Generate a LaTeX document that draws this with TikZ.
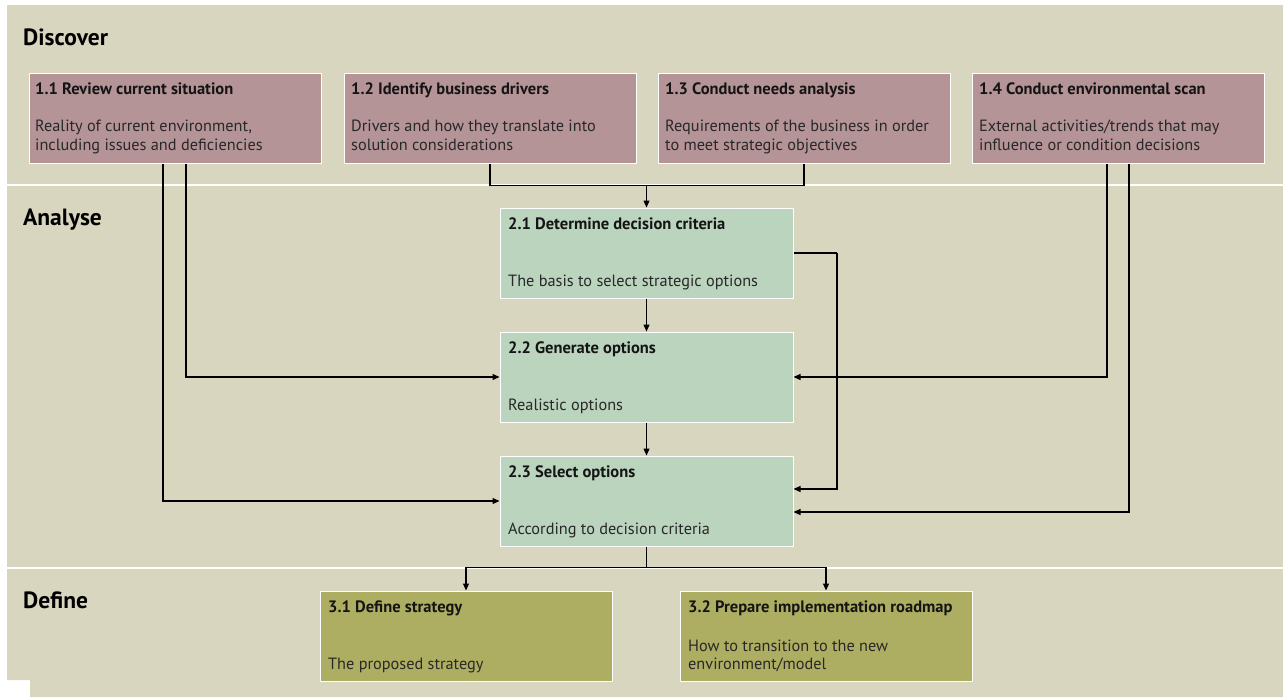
\documentclass[tikz,border=0pt]{standalone}
\usepackage{fontspec}
\setmainfont{PT Sans}
\usetikzlibrary{arrows.meta}
\definecolor{bg}{RGB}{216,214,190}
\definecolor{disc}{RGB}{181,148,152}
\definecolor{anal}{RGB}{186,212,190}
\definecolor{defn}{RGB}{174,174,98}
\definecolor{ttlc}{RGB}{20,20,20}
\definecolor{bodyc}{RGB}{40,40,40}
\begin{document}
\begin{tikzpicture}[x=1pt,y=-1pt,
 box/.style={draw=white,line width=1pt,minimum width=292pt,minimum height=90pt,inner sep=0pt,rectangle},
 ttl/.style={anchor=base west,inner sep=0pt,font=\fontsize{16.5}{19}\selectfont\bfseries,text=ttlc},
 body/.style={anchor=base west,inner sep=0pt,font=\fontsize{16.3}{19}\selectfont,text=bodyc},
 head/.style={anchor=base west,inner sep=0pt,font=\fontsize{23.5}{27}\selectfont\bfseries,text=black},
 conn/.style={line width=1.2pt,black},
 arr/.style={conn,-{Triangle[length=7pt,width=6pt]}}]
\useasboundingbox (0,0) rectangle (1283,697);
\fill[white] (0,0) rectangle (1283,697);
\fill[bg] (7,5) -- (1283,5) -- (1283,697) -- (30,697) -- (30,680) -- (7,680) -- cycle;
\draw[white,line width=2pt] (7,184.5) -- (1283,184.5);
\draw[white,line width=2pt] (7,568) -- (1283,568);

% headings
\node[head] (hdisc) at (23,45) {Discover};
\node[head] (hanal) at (23,225) {Analyse};
\node[head] (hdef) at (23,608) {Define};

% boxes
\node[box,fill=disc] (b11) at (175,118) {};
\node[box,fill=disc] (b12) at (490,118) {};
\node[box,fill=disc] (b13) at (804,118) {};
\node[box,fill=disc] (b14) at (1118,118) {};
\node[box,fill=anal,minimum width=293pt] (b21) at (646.5,253) {};
\node[box,fill=anal,minimum width=293pt] (b22) at (646.5,377) {};
\node[box,fill=anal,minimum width=293pt] (b23) at (646.5,501) {};
\node[box,fill=defn] (b31) at (466,636) {};
\node[box,fill=defn] (b32) at (826,636) {};

% texts
\node[ttl] (t11) at (35,94) {1.1 Review current situation};
\node[body] (d11a) at (35,131) {Reality of current environment,};
\node[body] (d11b) at (35,150) {including issues and deficiencies};
\node[ttl] (t12) at (351,94) {1.2 Identify business drivers};
\node[body] (d12a) at (351,131) {Drivers and how they translate into};
\node[body] (d12b) at (351,150) {solution considerations};
\node[ttl] (t13) at (665,94) {1.3 Conduct needs analysis};
\node[body] (d13a) at (665,131) {Requirements of the business in order};
\node[body] (d13b) at (665,150) {to meet strategic objectives};
\node[ttl] (t14) at (979,94) {1.4 Conduct environmental scan};
\node[body] (d14a) at (979,131) {External activities/trends that may};
\node[body] (d14b) at (979,150) {influence or condition decisions};

\node[ttl] (t21) at (508,229) {2.1 Determine decision criteria};
\node[body] (d21) at (508,286) {The basis to select strategic options};
\node[ttl] (t22) at (508,353) {2.2 Generate options};
\node[body] (d22) at (508,410) {Realistic options};
\node[ttl] (t23) at (508,477) {2.3 Select options};
\node[body] (d23) at (508,534) {According to decision criteria};

\node[ttl] (t31) at (328,612) {3.1 Define strategy};
\node[body] (d31) at (328,669) {The proposed strategy};
\node[ttl] (t32) at (688,612) {3.2 Prepare implementation roadmap};
\node[body] (d32a) at (688,651) {How to transition to the new};
\node[body] (d32b) at (688,669) {environment/model};

% connectors
\coordinate (m1) at (646.5,185.5);
\coordinate (m2) at (646.5,567.5);
\coordinate (r21) at (837,253);
\draw[conn] (b12.south) |- (m1) -| (b13.south);
\draw[arr] (m1) -- (b21.north);
\draw[arr] (b21.south) -- (b22.north);
\draw[arr] (b22.south) -- (b23.north);
\draw[arr] ([xshift=11pt]b11.south) |- (b22.west);
\draw[arr] ([xshift=-12pt]b11.south) |- (b23.west);
\draw[arr] ([xshift=-11pt]b14.south) |- (b22.east);
\draw[arr] ([xshift=11pt]b14.south) |- ([yshift=-11pt]b23.east);
\draw[conn] (b21.east) -- (r21);
\draw[arr] (r21) |- ([yshift=12pt]b23.east);
\draw[conn] (b23.south) -- (m2);
\draw[arr] (m2) -| (b31.north);
\draw[arr] (m2) -| (b32.north);
\end{tikzpicture}
\end{document}
